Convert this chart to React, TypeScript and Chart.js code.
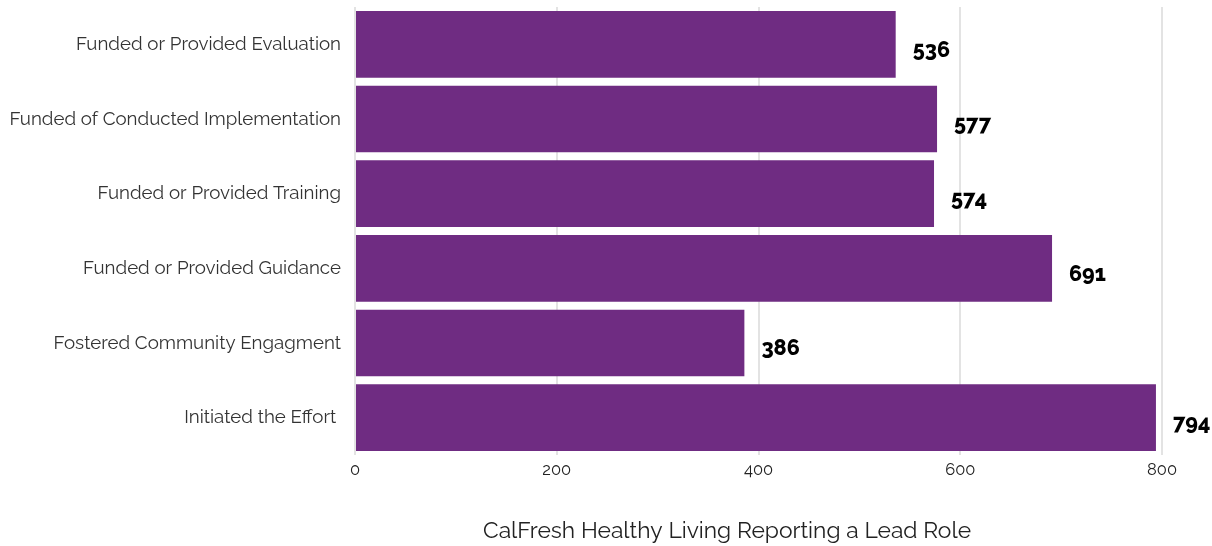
import React, { useEffect, useRef } from "react";
import { Chart, registerables } from "chart.js";

Chart.register(...registerables);

const categories = [
  "Funded or Provided Evaluation",
  "Funded of Conducted Implementation",
  "Funded or Provided Training",
  "Funded or Provided Guidance",
  "Fostered Community Engagment",
  "Initiated the Effort ",
];
const values = [536, 577, 574, 691, 386, 794];
const xTicks = [0, 200, 400, 600, 800];
const axisTitle = "CalFresh Healthy Living Reporting a Lead Role";

const FONT = "Raleway, Lato, 'Open Sans', sans-serif";

const valueLabels = {
  id: "valueLabels",
  afterDatasetsDraw(chart: any) {
    const ctx = chart.ctx;
    const meta = chart.getDatasetMeta(0);
    ctx.save();
    ctx.font = `800 21.5px ${FONT}`;
    ctx.fillStyle = "#000";
    ctx.textAlign = "left";
    ctx.textBaseline = "middle";
    meta.data.forEach((bar: any, i: number) => {
      ctx.fillText(String(values[i]), bar.x + 17, bar.y + 6);
    });
    ctx.restore();
  },
};

const bottomTitle = {
  id: "bottomTitle",
  afterDraw(chart: any) {
    const ctx = chart.ctx;
    ctx.save();
    ctx.font = `22.8px ${FONT}`;
    ctx.fillStyle = "#222";
    ctx.textAlign = "center";
    ctx.textBaseline = "middle";
    ctx.fillText(axisTitle, 727, 531);
    ctx.restore();
  },
};

export default function App() {
  const ref = useRef<HTMLCanvasElement>(null);
  useEffect(() => {
    document.body.style.margin = "0";
    const chart = new Chart(ref.current!, {
      type: "bar",
      data: {
        labels: categories,
        datasets: [
          {
            data: values,
            backgroundColor: "#6f2c82",
            categoryPercentage: 0.9,
            barPercentage: 0.993,
          },
        ],
      },
      options: {
        indexAxis: "y",
        animation: false,
        responsive: false,
        layout: { padding: { top: 7, right: 50, left: 0, bottom: 0 } },
        plugins: { legend: { display: false }, tooltip: { enabled: false } },
        scales: {
          x: {
            min: 0,
            max: 800,
            afterBuildTicks(scale: any) {
              scale.ticks = xTicks.map((v) => ({ value: v }));
            },
            afterFit(scale: any) {
              scale.height = 91;
              scale.paddingLeft = 0;
              scale.paddingRight = 0;
            },
            grid: { color: "#e3e3e3", lineWidth: 2, drawTicks: false },
            border: { display: false },
            ticks: {
              padding: 5,
              color: "#222",
              font: { family: FONT, size: 16.5 },
            },
          },
          y: {
            afterFit(scale: any) {
              scale.width = 355;
              scale.paddingTop = 0;
              scale.paddingBottom = 0;
            },
            grid: { display: false, drawTicks: false },
            border: { display: false },
            ticks: {
              padding: 14,
              color: "#333",
              font: { family: FONT, size: 18.7 },
            },
          },
        },
      },
      plugins: [valueLabels, bottomTitle],
    });
    return () => chart.destroy();
  }, []);
  return (
    <div style={{ width: 1212, height: 546 }}>
      <canvas ref={ref} width={1212} height={546} />
    </div>
  );
}
